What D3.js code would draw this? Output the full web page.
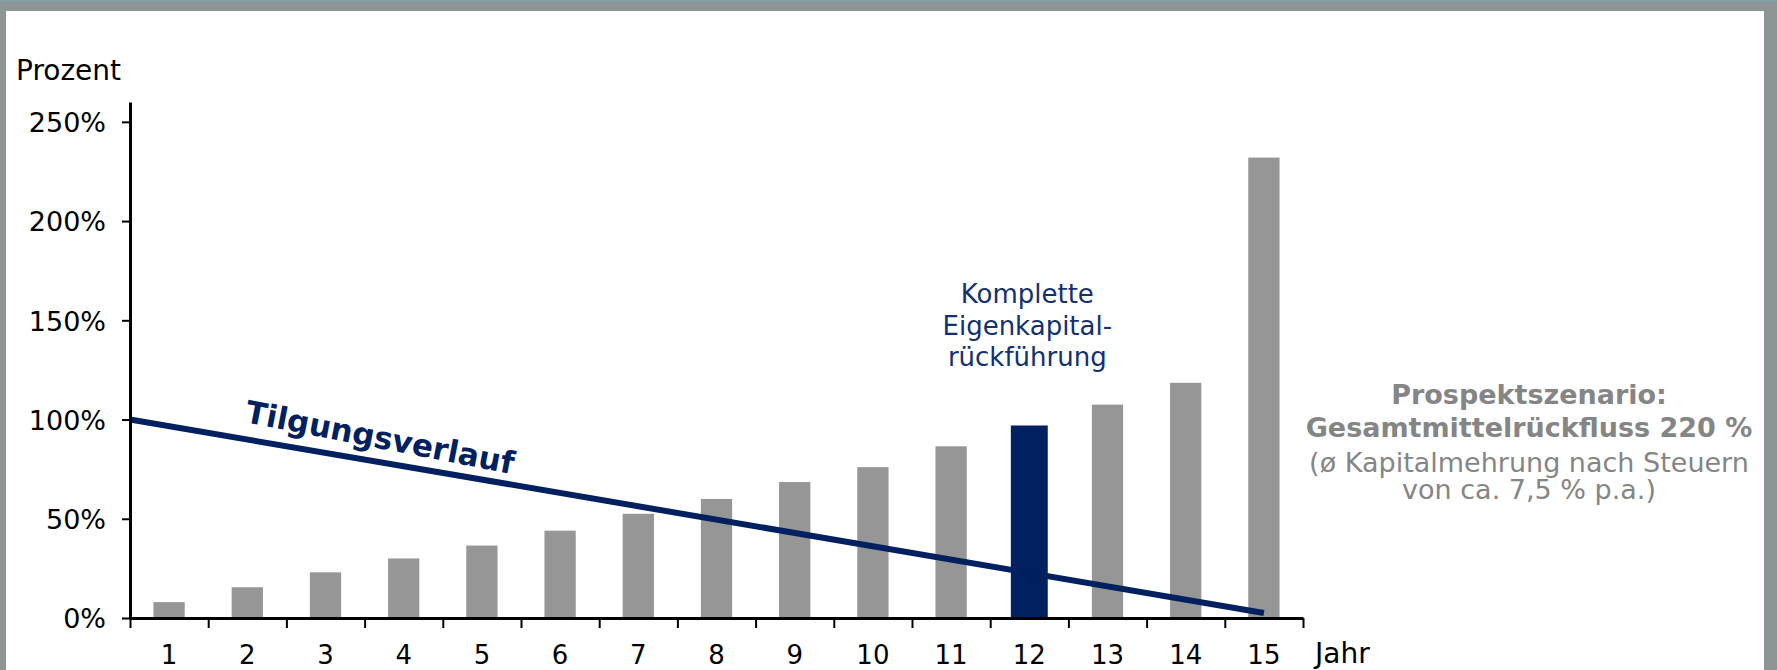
<!DOCTYPE html>
<html>
<head>
<meta charset="utf-8">
<script src="https://cdn.jsdelivr.net/npm/d3@7"></script>
<style>
  html, body { margin: 0; padding: 0; background: #8d9494; }
  svg { display: block; }
  text { font-family: "DejaVu Sans", Verdana, sans-serif; }
</style>
</head>
<body>
<script>
// ---- data ----
const years = [1, 2, 3, 4, 5, 6, 7, 8, 9, 10, 11, 12, 13, 14, 15];
const returnValues = [8, 15.5, 23, 30, 36.5, 44, 52.5, 60, 68.5, 76, 86.5, 97, 107.5, 118.5, 232];
const highlightYear = 12;
const yTickValues = [0, 50, 100, 150, 200, 250];
const tilgungYears = [0.5, 15];
const tilgungValues = [100, 2.5];
const yAxisTitle = "Prozent";
const xAxisTitle = "Jahr";
const lineLabel = "Tilgungsverlauf";
const highlightNote = ["Komplette", "Eigenkapital-", "rückführung"];
const sideNoteBold = ["Prospektszenario:", "Gesamtmittelrückfluss 220 %"];
const sideNoteRegular = ["(ø Kapitalmehrung nach Steuern", "von ca. 7,5 % p.a.)"];

// ---- layout ----
const W = 1777, H = 670;
const navy = "#002060", grey = "#969696", noteGrey = "#858585";

const svg = d3.select("body").append("svg").attr("width", W).attr("height", H);

// frame
svg.append("rect").attr("x", 0).attr("y", 0).attr("width", W).attr("height", H).attr("fill", "#8e9595");
svg.append("rect").attr("x", 0).attr("y", 0).attr("width", W).attr("height", 2).attr("fill", "#7fa3a8");
svg.append("rect").attr("x", 6).attr("y", 11).attr("width", 1758).attr("height", H - 11).attr("fill", "#ffffff");

const plotLeft = 130, plotRight = 1303, plotBottom = 618, plotTop = 102;

const xBand = d3.scaleBand().domain(years).range([plotLeft, plotRight]).paddingInner(0.6).paddingOuter(0.3);
const xLin = d3.scaleLinear().domain([0.5, 15.5]).range([plotLeft, plotRight]);
const y = d3.scaleLinear().domain([0, 260]).range([plotBottom, plotTop]);

// bars
const bw = xBand.bandwidth();
svg.append("g").selectAll("rect")
  .data(years.map((yr, i) => ({ yr, v: returnValues[i] })))
  .join("rect")
  .attr("x", d => {
    const w = d.yr === highlightYear ? bw * 1.18 : bw;
    return xBand(d.yr) + bw / 2 - w / 2;
  })
  .attr("width", d => d.yr === highlightYear ? bw * 1.18 : bw)
  .attr("y", d => y(d.v))
  .attr("height", d => y(0) - y(d.v))
  .attr("fill", d => d.yr === highlightYear ? navy : grey);

// Tilgung line
const lineGen = d3.line().x(d => xLin(d[0])).y(d => y(d[1]));
svg.append("path")
  .datum(tilgungYears.map((t, i) => [t, tilgungValues[i]]))
  .attr("d", lineGen)
  .attr("fill", "none")
  .attr("stroke", navy)
  .attr("stroke-width", 6);

// Y axis
const yAxis = svg.append("g").attr("transform", `translate(${plotLeft},0)`)
  .call(d3.axisLeft(y).tickValues(yTickValues).tickSize(8).tickSizeOuter(0).tickPadding(16)
    .tickFormat(d => d + "%"));
yAxis.select(".domain").attr("stroke", "#000").attr("stroke-width", 3);
yAxis.selectAll(".tick line").attr("stroke", "#000").attr("stroke-width", 2);
yAxis.selectAll(".tick text").attr("font-size", 27).attr("fill", "#000")
  .attr("font-family", "'DejaVu Sans', sans-serif").attr("dy", "0.36em");

// X axis: boundary ticks
const xTicks = svg.append("g").attr("transform", `translate(0,${plotBottom})`)
  .call(d3.axisBottom(xLin).tickValues(d3.range(0.5, 16, 1)).tickSize(10).tickSizeOuter(0).tickFormat(""));
xTicks.select(".domain").attr("stroke", "#000").attr("stroke-width", 3);
xTicks.selectAll(".tick line").attr("stroke", "#000").attr("stroke-width", 2);

// X axis: labels
const xLabels = svg.append("g").attr("transform", `translate(0,${plotBottom})`)
  .call(d3.axisBottom(xBand).tickSize(0).tickPadding(0));
xLabels.select(".domain").remove();
xLabels.selectAll(".tick text").attr("font-size", 26).attr("fill", "#000")
  .attr("font-family", "'DejaVu Sans', sans-serif").attr("y", 46).attr("dy", 0);

// axis titles
svg.append("text").attr("x", 16).attr("y", 80).attr("font-size", 28).attr("fill", "#000").text(yAxisTitle);
svg.append("text").attr("x", 1315).attr("y", 663).attr("font-size", 28).attr("fill", "#000").text(xAxisTitle);

// line label
svg.append("text")
  .attr("transform", `translate(244,422) rotate(11)`)
  .attr("font-size", 31).attr("font-weight", "bold").attr("fill", navy)
  .text(lineLabel);

// highlight annotation
const hx = xBand(highlightYear) + bw / 2;
svg.append("g").selectAll("text").data(highlightNote).join("text")
  .attr("x", hx - 2).attr("y", (d, i) => 303 + i * 31.5)
  .attr("text-anchor", "middle").attr("font-size", 26).attr("fill", "#13306f")
  .text(d => d);

// side note
const sx = 1529;
svg.append("g").selectAll("text").data(sideNoteBold).join("text")
  .attr("x", sx).attr("y", (d, i) => 404 + i * 33)
  .attr("text-anchor", "middle").attr("font-size", 27).attr("font-weight", "bold").attr("fill", noteGrey)
  .text(d => d);
svg.append("g").selectAll("text").data(sideNoteRegular).join("text")
  .attr("x", sx).attr("y", (d, i) => 472 + i * 27)
  .attr("text-anchor", "middle").attr("font-size", 27).attr("fill", noteGrey)
  .text(d => d);
</script>
</body>
</html>
